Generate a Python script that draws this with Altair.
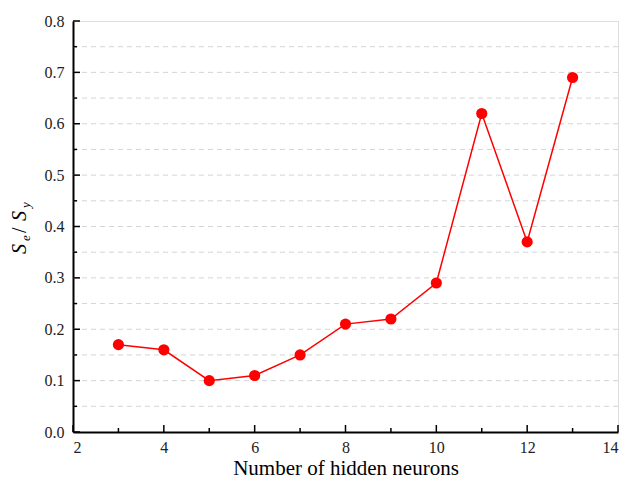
import altair as alt
import pandas as pd

neurons = [3, 4, 5, 6, 7, 8, 9, 10, 11, 12, 13]
ratio = [0.17, 0.16, 0.10, 0.11, 0.15, 0.21, 0.22, 0.29, 0.62, 0.37, 0.69]

x_major = [2, 4, 6, 8, 10, 12, 14]
x_minor = [3, 5, 7, 9, 11, 13]
y_major = [0.0, 0.1, 0.2, 0.3, 0.4, 0.5, 0.6, 0.7, 0.8]
y_minor = [0.05, 0.15, 0.25, 0.35, 0.45, 0.55, 0.65, 0.75]
y_grid = [0.05, 0.1, 0.15, 0.2, 0.25, 0.3, 0.35, 0.4, 0.45, 0.5, 0.55, 0.6, 0.65, 0.7, 0.75]

W, H = 545, 411
FONT = "Liberation Serif"
RED = "#ff0000"

df = pd.DataFrame({"n": neurons, "r": ratio})

xs = alt.Scale(domain=[2, 14], nice=False, zero=False)
ys = alt.Scale(domain=[0, 0.8], nice=False)

x_axis = alt.Axis(values=x_major, ticks=False, grid=False, domain=True,
                  domainColor="black", domainWidth=2, labelFont=FONT,
                  labelFontSize=16, labelColor="#222222", labelPadding=7,
                  title="Number of hidden neurons", titleFont=FONT,
                  titleFontSize=21, titleFontWeight="normal", titleColor="black",
                  titlePadding=2)
y_axis = alt.Axis(values=y_major, ticks=False, grid=False, domain=True,
                  domainColor="black", domainWidth=2, labelFont=FONT,
                  labelFontSize=16, labelColor="#222222", labelPadding=9,
                  format=".1f", title=None)

grid = alt.Chart(pd.DataFrame({"g": y_grid})).mark_rule(
    color="#d4d4d4", strokeDash=[5, 4], strokeWidth=1
).encode(y=alt.Y("g:Q", scale=ys, axis=y_axis))

line = alt.Chart(df).mark_line(color=RED, strokeWidth=1.5).encode(
    x=alt.X("n:Q", scale=xs, axis=x_axis),
    y=alt.Y("r:Q", scale=ys, axis=y_axis),
)
pts = alt.Chart(df).mark_point(filled=True, color=RED, opacity=1, size=125, shape="circle").encode(
    x=alt.X("n:Q", scale=xs), y=alt.Y("r:Q", scale=ys)
)

def xticks(vals, L):
    return alt.Chart(pd.DataFrame({"t": vals})).mark_rule(color="black", strokeWidth=1.5).encode(
        x=alt.X("t:Q", scale=xs), y=alt.value(H), y2=alt.value(H - L))

def yticks(vals, L):
    return alt.Chart(pd.DataFrame({"t": vals})).mark_rule(color="black", strokeWidth=1.5).encode(
        y=alt.Y("t:Q", scale=ys), x=alt.value(0), x2=alt.value(L))

one = pd.DataFrame({"a": [0]})

def lab(txt, x, y, size, italic=True):
    return alt.Chart(one).mark_text(
        text=txt, angle=270, align="left", baseline="alphabetic", font=FONT,
        fontSize=size, fontStyle="italic" if italic else "normal", color="black"
    ).encode(x=alt.value(x), y=alt.value(y))

ylab = [
    lab("S", -47, 233, 20),
    lab("e", -43, 220, 13),
    lab("/", -47, 212, 20, italic=False),
    lab("S", -47, 200, 20),
    lab("y", -43, 187, 13),
]

chart = alt.layer(
    grid, line, pts,
    xticks(x_major, 7), xticks(x_minor, 4),
    yticks(y_major, 7), yticks(y_minor, 4),
    *ylab,
).properties(
    width=W, height=H,
    autosize=alt.AutoSizeParams(type="none"),
    padding={"left": 65, "top": 13, "right": 2, "bottom": 52},
).configure_view(stroke="black", strokeWidth=1.5).configure(background="white")

chart.save("out.html", embed_options={"renderer": "svg", "actions": False})
